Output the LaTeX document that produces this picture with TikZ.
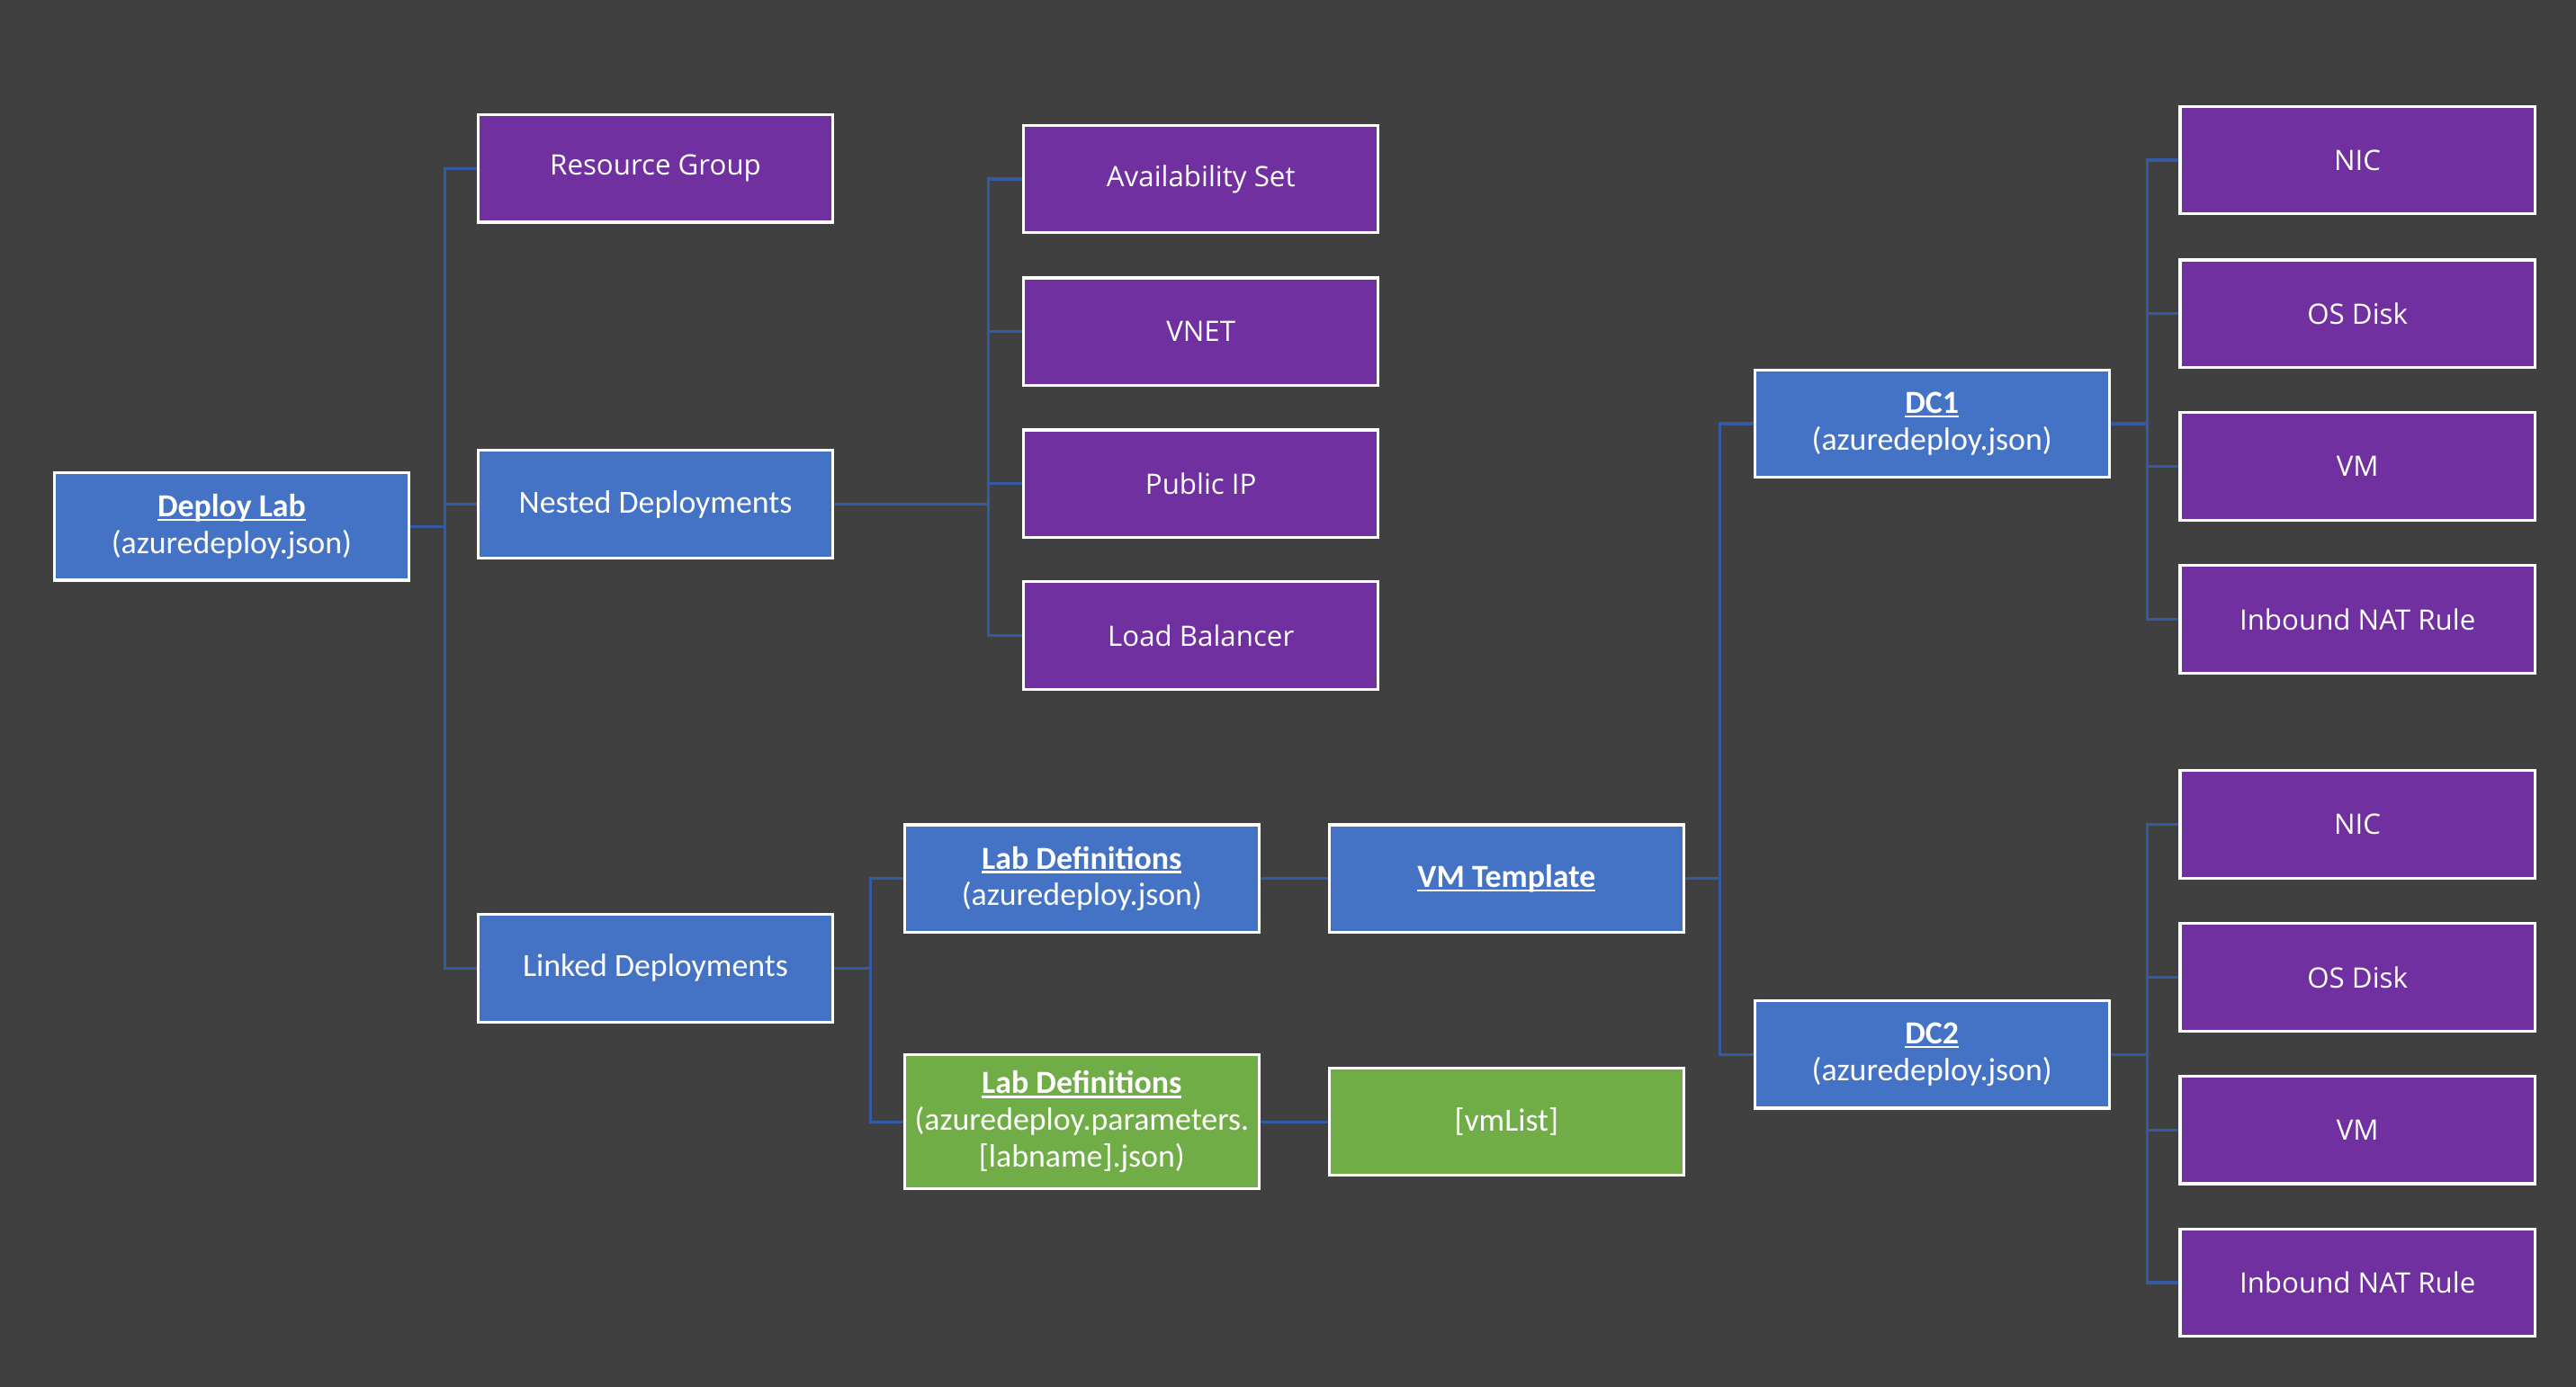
\documentclass[tikz,border=0pt]{standalone}
\usepackage{fontspec}
\setmainfont{Carlito}
\newfontfamily\purplefont{Open Sans}
\definecolor{bg}{HTML}{404040}
\definecolor{bluebox}{HTML}{4472C4}
\definecolor{purplebox}{HTML}{7030A0}
\definecolor{greenbox}{HTML}{70AD47}
\definecolor{conncol}{RGB}{52,90,165}
\newcommand\myul[1]{\setbox0\hbox{#1}\rlap{\rule[-0.13em]{\wd0}{0.065em}}\box0}
\tikzset{
  basebox/.style={draw=white, line width=0.9pt, text=white, align=center, inner sep=0pt,
    minimum width=3.944cm, minimum height=1.196cm},
  bluenode/.style={basebox, fill=bluebox, font=\fontsize{10.2}{11.6}\selectfont},
  greennode/.style={basebox, fill=greenbox, font=\fontsize{10.2}{11.6}\selectfont},
  purplenode/.style={basebox, fill=purplebox, font=\purplefont\fontsize{8.9}{11}\selectfont},
  conn/.style={draw=conncol, line width=0.9pt}
}
\begin{document}
\begin{tikzpicture}[x=0.01826cm, y=-0.01826cm]
\useasboundingbox (0,0) rectangle (1568,844);
\fill[bg] (-10,-10) rectangle (1578,854);
% column 1
\node[bluenode] (dl) at (141,320.5) {\myul{\textbf{Deploy Lab}}\\(azuredeploy.json)};
% column 2
\node[purplenode] (rg) at (399,102.5) {Resource Group};
\node[bluenode] (nd) at (399,307) {Nested Deployments};
\node[bluenode] (ld) at (399,589.5) {Linked Deployments};
% nested children
\node[purplenode] (as) at (731,109) {Availability Set};
\node[purplenode] (vn) at (731,202) {VNET};
\node[purplenode] (pip) at (731,294.5) {Public IP};
\node[purplenode] (lb) at (731,387) {Load Balancer};
% linked children
\node[bluenode] (ldb) at (658.5,535) {\myul{\textbf{Lab Definitions}}\\(azuredeploy.json)};
\node[greennode, minimum height=1.497cm] (ldg) at (658.5,683) {\myul{\textbf{Lab Definitions}}\\(azuredeploy.parameters.\\{}[labname].json)};
\node[bluenode] (vmt) at (917,535) {\myul{\textbf{VM Template}}};
\node[greennode] (vml) at (917,683) {[vmList]};
% DCs
\node[bluenode] (dc1) at (1176,258) {\myul{\textbf{DC1}}\\(azuredeploy.json)};
\node[bluenode] (dc2) at (1176,642) {\myul{\textbf{DC2}}\\(azuredeploy.json)};
% DC1 resources
\node[purplenode] (nic1) at (1435,97.5) {NIC};
\node[purplenode] (os1) at (1435,191) {OS Disk};
\node[purplenode] (vm1) at (1435,284) {VM};
\node[purplenode] (nat1) at (1435,377) {Inbound NAT Rule};
% DC2 resources
\node[purplenode] (nic2) at (1435,502) {NIC};
\node[purplenode] (os2) at (1435,595) {OS Disk};
\node[purplenode] (vm2) at (1435,688) {VM};
\node[purplenode] (nat2) at (1435,781) {Inbound NAT Rule};
% connectors
\draw[conn] (dl.east) -- ++(21,0) coordinate (b1);
\draw[conn] (b1) |- (rg.west);
\draw[conn] (b1) |- (nd.west);
\draw[conn] (b1) |- (ld.west);
\draw[conn] (nd.east) -- ++(94,0) coordinate (b2);
\draw[conn] (b2) |- (as.west);
\draw[conn] (b2) |- (vn.west);
\draw[conn] (b2) |- (pip.west);
\draw[conn] (b2) |- (lb.west);
\draw[conn] (ld.east) -- ++(22,0) coordinate (b3);
\draw[conn] (b3) |- (ldb.west);
\draw[conn] (b3) |- (ldg.west);
\draw[conn] (ldb.east) -- (vmt.west);
\draw[conn] (ldg.east) -- (vml.west);
\draw[conn] (vmt.east) -- ++(21,0) coordinate (b4);
\draw[conn] (b4) |- (dc1.west);
\draw[conn] (b4) |- (dc2.west);
\draw[conn] (dc1.east) -- ++(22,0) coordinate (b5);
\draw[conn] (b5) |- (nic1.west);
\draw[conn] (b5) |- (os1.west);
\draw[conn] (b5) |- (vm1.west);
\draw[conn] (b5) |- (nat1.west);
\draw[conn] (dc2.east) -- ++(22,0) coordinate (b6);
\draw[conn] (b6) |- (nic2.west);
\draw[conn] (b6) |- (os2.west);
\draw[conn] (b6) |- (vm2.west);
\draw[conn] (b6) |- (nat2.west);
\end{tikzpicture}
\end{document}
